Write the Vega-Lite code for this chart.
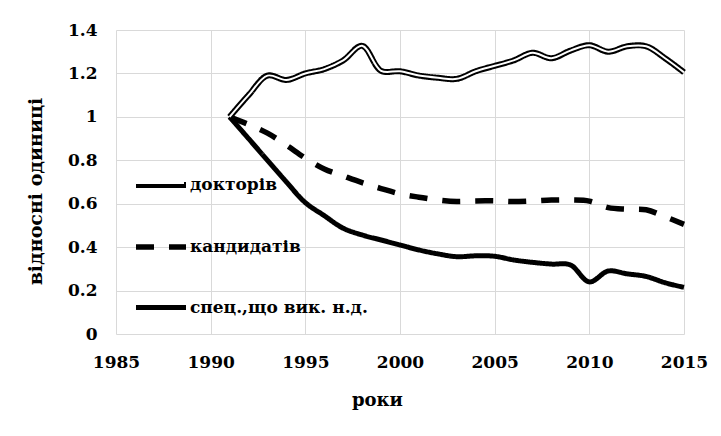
{
  "$schema": "https://vega.github.io/schema/vega-lite/v6.json",
  "width": 568,
  "height": 304,
  "autosize": {"type": "none"},
  "padding": {"left": 116, "top": 30, "right": 37, "bottom": 102},
  "background": "white",
  "config": {
    "view": {"stroke": null},
    "font": "DejaVu Serif",
    "axis": {
      "labelFont": "DejaVu Serif", "labelFontWeight": "bold", "labelFontSize": 17, "labelColor": "black", "labelFlush": false,
      "titleFont": "DejaVu Serif", "titleFontWeight": "bold", "titleFontSize": 18, "titleColor": "black",
      "gridColor": "#d9d9d9", "gridWidth": 1, "ticks": false, "tickSize": 0, "domain": false
    },
    "legend": {
      "labelFont": "DejaVu Serif", "labelFontWeight": "bold", "labelFontSize": 17, "labelColor": "black", "labelLimit": 400,
      "symbolType": "stroke", "symbolSize": 2500, "rowPadding": 22, "labelOffset": 1, "padding": 0,
      "orient": "none", "legendX": 17, "legendY": 127, "title": null
    }
  },
  "data": {
    "values": [
      {"year": 1991, "series": "докторів", "value": 1.0},
      {"year": 1992, "series": "докторів", "value": 1.10},
      {"year": 1993, "series": "докторів", "value": 1.19},
      {"year": 1994, "series": "докторів", "value": 1.17},
      {"year": 1995, "series": "докторів", "value": 1.20},
      {"year": 1996, "series": "докторів", "value": 1.22},
      {"year": 1997, "series": "докторів", "value": 1.26},
      {"year": 1998, "series": "докторів", "value": 1.327},
      {"year": 1999, "series": "докторів", "value": 1.212},
      {"year": 2000, "series": "докторів", "value": 1.21},
      {"year": 2001, "series": "докторів", "value": 1.19},
      {"year": 2002, "series": "докторів", "value": 1.18},
      {"year": 2003, "series": "докторів", "value": 1.175},
      {"year": 2004, "series": "докторів", "value": 1.21},
      {"year": 2005, "series": "докторів", "value": 1.235},
      {"year": 2006, "series": "докторів", "value": 1.26},
      {"year": 2007, "series": "докторів", "value": 1.295},
      {"year": 2008, "series": "докторів", "value": 1.27},
      {"year": 2009, "series": "докторів", "value": 1.305},
      {"year": 2010, "series": "докторів", "value": 1.33},
      {"year": 2011, "series": "докторів", "value": 1.30},
      {"year": 2012, "series": "докторів", "value": 1.325},
      {"year": 2013, "series": "докторів", "value": 1.325},
      {"year": 2014, "series": "докторів", "value": 1.27},
      {"year": 2015, "series": "докторів", "value": 1.205},
      {"year": 1991, "series": "кандидатів", "value": 1.0},
      {"year": 1992, "series": "кандидатів", "value": 0.965},
      {"year": 1993, "series": "кандидатів", "value": 0.925},
      {"year": 1994, "series": "кандидатів", "value": 0.87},
      {"year": 1995, "series": "кандидатів", "value": 0.81},
      {"year": 1996, "series": "кандидатів", "value": 0.76},
      {"year": 1997, "series": "кандидатів", "value": 0.728},
      {"year": 1998, "series": "кандидатів", "value": 0.697},
      {"year": 1999, "series": "кандидатів", "value": 0.67},
      {"year": 2000, "series": "кандидатів", "value": 0.645},
      {"year": 2001, "series": "кандидатів", "value": 0.63},
      {"year": 2002, "series": "кандидатів", "value": 0.617},
      {"year": 2003, "series": "кандидатів", "value": 0.61},
      {"year": 2004, "series": "кандидатів", "value": 0.613},
      {"year": 2005, "series": "кандидатів", "value": 0.613},
      {"year": 2006, "series": "кандидатів", "value": 0.61},
      {"year": 2007, "series": "кандидатів", "value": 0.613},
      {"year": 2008, "series": "кандидатів", "value": 0.617},
      {"year": 2009, "series": "кандидатів", "value": 0.617},
      {"year": 2010, "series": "кандидатів", "value": 0.612},
      {"year": 2011, "series": "кандидатів", "value": 0.582},
      {"year": 2012, "series": "кандидатів", "value": 0.575},
      {"year": 2013, "series": "кандидатів", "value": 0.572},
      {"year": 2014, "series": "кандидатів", "value": 0.54},
      {"year": 2015, "series": "кандидатів", "value": 0.505},
      {"year": 1991, "series": "спец.,що вик. н.д.", "value": 1.0},
      {"year": 1992, "series": "спец.,що вик. н.д.", "value": 0.90},
      {"year": 1993, "series": "спец.,що вик. н.д.", "value": 0.80},
      {"year": 1994, "series": "спец.,що вик. н.д.", "value": 0.70},
      {"year": 1995, "series": "спец.,що вик. н.д.", "value": 0.605},
      {"year": 1996, "series": "спец.,що вик. н.д.", "value": 0.545},
      {"year": 1997, "series": "спец.,що вик. н.д.", "value": 0.487},
      {"year": 1998, "series": "спец.,що вик. н.д.", "value": 0.456},
      {"year": 1999, "series": "спец.,що вик. н.д.", "value": 0.433},
      {"year": 2000, "series": "спец.,що вик. н.д.", "value": 0.41},
      {"year": 2001, "series": "спец.,що вик. н.д.", "value": 0.387},
      {"year": 2002, "series": "спец.,що вик. н.д.", "value": 0.369},
      {"year": 2003, "series": "спец.,що вик. н.д.", "value": 0.356},
      {"year": 2004, "series": "спец.,що вик. н.д.", "value": 0.36},
      {"year": 2005, "series": "спец.,що вик. н.д.", "value": 0.358},
      {"year": 2006, "series": "спец.,що вик. н.д.", "value": 0.341},
      {"year": 2007, "series": "спец.,що вик. н.д.", "value": 0.33},
      {"year": 2008, "series": "спец.,що вик. н.д.", "value": 0.322},
      {"year": 2009, "series": "спец.,що вик. н.д.", "value": 0.318},
      {"year": 2010, "series": "спец.,що вик. н.д.", "value": 0.24},
      {"year": 2011, "series": "спец.,що вик. н.д.", "value": 0.29},
      {"year": 2012, "series": "спец.,що вик. н.д.", "value": 0.277},
      {"year": 2013, "series": "спец.,що вик. н.д.", "value": 0.265},
      {"year": 2014, "series": "спец.,що вик. н.д.", "value": 0.236},
      {"year": 2015, "series": "спец.,що вик. н.д.", "value": 0.215}
    ]
  },
  "layer": [
    {
      "mark": {"type": "line", "color": "black", "interpolate": "catmull-rom", "strokeCap": "butt"},
      "encoding": {
        "x": {
          "field": "year", "type": "quantitative",
          "scale": {"domain": [1985, 2015], "nice": false, "zero": false},
          "axis": {"values": [1985, 1990, 1995, 2000, 2005, 2010, 2015], "format": "d", "title": "роки",
                   "labelPadding": 20, "titleX": 261, "titleY": 71, "titleBaseline": "alphabetic", "titleAlign": "center"}
        },
        "y": {
          "field": "value", "type": "quantitative",
          "scale": {"domain": [0, 1.4], "nice": false},
          "axis": {"values": [0, 0.2, 0.4, 0.6, 0.8, 1, 1.2, 1.4], "format": "~g", "title": "відносні одиниці",
                   "labelPadding": 19, "titleFontSize": 19, "titleX": -75, "titleY": 161, "titleBaseline": "alphabetic", "titleAlign": "center", "titleAngle": -90}
        },
        "strokeDash": {
          "field": "series", "type": "nominal",
          "scale": {"domain": ["докторів", "кандидатів", "спец.,що вик. н.д."], "range": [[1, 0], [18, 15], [1, 0]]},
          "legend": {"symbolStrokeColor": "black", "zindex": 1}
        },
        "strokeWidth": {
          "field": "series", "type": "ordinal",
          "scale": {"domain": ["докторів", "кандидатів", "спец.,що вик. н.д."], "range": [6, 5, 4]}
        }
      }
    },
    {
      "transform": [{"filter": "datum.series === 'докторів'"}],
      "mark": {"type": "line", "interpolate": "catmull-rom", "strokeWidth": 2},
      "encoding": {
        "x": {"field": "year", "type": "quantitative"},
        "y": {"field": "value", "type": "quantitative"},
        "color": {
          "field": "series", "type": "nominal",
          "scale": {"range": ["white"]},
          "legend": {"symbolStrokeWidth": 2, "labelExpr": "''", "zindex": 2}
        }
      }
    }
  ]
}
